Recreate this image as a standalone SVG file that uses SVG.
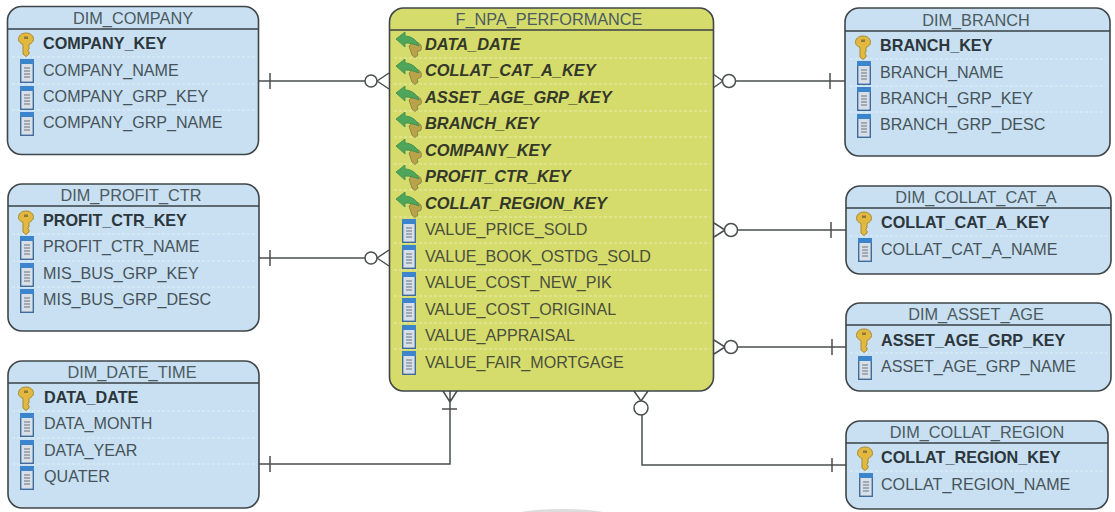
<svg xmlns="http://www.w3.org/2000/svg" width="1115" height="512" viewBox="0 0 1115 512">
<style>
text{font-family:"Liberation Sans",Arial,sans-serif;font-size:16.1px;fill:#47535a}
.title{text-anchor:middle;fill:#4c5a62;font-size:16.3px}
.k{font-weight:bold;fill:#2c363c;font-size:16.2px}
.f{font-weight:bold;font-style:italic;fill:#33382a;font-size:16.4px}
.v{fill:#4a4f3e}
.box{stroke:#3f4548;stroke-width:1.6}
.dim{fill:#c8e0f1}
.fact{fill:#d5dc6b}
.hd{stroke:#3a4246;stroke-width:1.4;fill:none}
.sep{stroke:#fff;stroke-opacity:.45;stroke-width:1;stroke-dasharray:3 2;fill:none}
.c{fill:none;stroke:#4b4f50;stroke-width:1.5}
.o{fill:#fff;stroke:#4b4f50;stroke-width:1.5}
</style>
<defs>
<symbol id="key" width="16" height="24" viewBox="0 0 16 24" overflow="visible">
<path d="M8 0C3 0 .5 3 .5 6.500C.5 9 3 10.500 5 11.500L5 21L8 23.500L11 21L11 18.500L9.500 17.500L11 16L11 11.500C13 10.500 15.500 9 15.500 6.500C15.500 3 13 0 8 0Z" fill="#e2b83f" stroke="#a58a35" stroke-width="1"/>
<rect x="6" y="3.500" width="4" height="2.500" fill="#8d7a3a"/>
</symbol>
<symbol id="col" width="14" height="24" viewBox="0 0 14 24">
<rect x=".7" y=".7" width="12.600" height="22.600" fill="#d8dfe6" stroke="#3f6c9c" stroke-width="1.400"/>
<rect x="0" y="0" width="14" height="5" fill="#3c85cc"/>
<path d="M4 9H10M4 12H10M4 15H10M4 18H10" stroke="#8c99a5" stroke-width="1.300"/>
</symbol>
<symbol id="fk" width="28" height="26" viewBox="0 0 28 26">
<path d="M14 14L17 23L20 25.500L23 23L22 20L26 18C28 13 23 9 18 10Z" fill="#b9a24a" stroke="#8f8a45"/>
<path d="M1 7L10 0L10 4C16 4 22 8 24 14C19 12 15 11 10 11L10 15Z" fill="#4fa65a" stroke="#3c8a4a" stroke-width=".8"/>
</symbol>
</defs>
<rect width="1115" height="512" fill="#fff"/>
<ellipse cx="562" cy="520" rx="60" ry="11" fill="#dcdcdc"/>

<g id="connectors">
<path class="c" d="M258 81H365M270 73V89M377 81L389 73M377 81L389 89"/>
<circle class="o" cx="371" cy="81" r="6"/>
<path class="c" d="M259 258H365M270 250V266M377 258L389 250M377 258L389 266"/>
<circle class="o" cx="371" cy="258" r="6"/>
<path class="c" d="M259 464H450V391M270 456V472M442 409H457M450 402L443 391M450 402L457 391"/>
<path class="c" d="M846 465H642V415M832 458V472M641 401L634 391M641 401L648 391"/>
<circle class="o" cx="641" cy="408" r="7"/>
<path class="c" d="M735 81H845M830 73V89M723 81L713 74M723 81L713 88"/>
<circle class="o" cx="729" cy="81" r="6.500"/>
<path class="c" d="M737 230H846M831 222V238M725 230L714 223M725 230L714 237"/>
<circle class="o" cx="731" cy="230" r="6.500"/>
<path class="c" d="M737 347H846M832 339V355M725 347L714 340M725 347L714 354"/>
<circle class="o" cx="731" cy="347" r="6.500"/>
</g>

<g id="dim_company">
<rect class="box dim" x="7.500" y="6.500" width="251" height="148" rx="14"/>
<path class="hd" d="M8 29H258"/>
<path class="sep" d="M12 57H256M12 84H256M12 110H256"/>
<text class="title" x="133" y="24">DIM_COMPANY</text>
<use href="#key" x="18" y="33"/><text class="k" x="43" y="49">COMPANY_KEY</text>
<use href="#col" x="20" y="59"/><text x="43" y="75.500">COMPANY_NAME</text>
<use href="#col" x="20" y="86"/><text x="43" y="102">COMPANY_GRP_KEY</text>
<use href="#col" x="20" y="112"/><text x="43" y="128">COMPANY_GRP_NAME</text>
</g>

<g id="dim_profit_ctr">
<rect class="box dim" x="8" y="184" width="251" height="147" rx="14"/>
<path class="hd" d="M8 206H259"/>
<path class="sep" d="M12 234H256M12 261H256M12 287H256"/>
<text class="title" x="131" y="201">DIM_PROFIT_CTR</text>
<use href="#key" x="18" y="211"/><text class="k" x="43" y="226">PROFIT_CTR_KEY</text>
<use href="#col" x="20" y="236"/><text x="43" y="252">PROFIT_CTR_NAME</text>
<use href="#col" x="20" y="263"/><text x="43" y="278.500">MIS_BUS_GRP_KEY</text>
<use href="#col" x="20" y="289"/><text x="43" y="305">MIS_BUS_GRP_DESC</text>
</g>

<g id="dim_date_time">
<rect class="box dim" x="8" y="361" width="251" height="147" rx="14"/>
<path class="hd" d="M8 383H259"/>
<path class="sep" d="M12 411H256M12 438H256M12 464H256"/>
<text class="title" x="132" y="378">DIM_DATE_TIME</text>
<use href="#key" x="18" y="387"/><text class="k" x="44" y="402.500">DATA_DATE</text>
<use href="#col" x="20" y="413"/><text x="44" y="429">DATA_MONTH</text>
<use href="#col" x="20" y="440"/><text x="44" y="456">DATA_YEAR</text>
<use href="#col" x="20" y="466"/><text x="44" y="482">QUATER</text>
</g>

<g id="f_npa_performance">
<rect class="box fact" x="389.500" y="8" width="324" height="383" rx="14"/>
<path class="hd" d="M390 30H713"/>
<path class="sep" d="M394 58H710M394 84H710M394 111H710M394 137H710M394 164H710M394 190H710M394 217H710M394 243H710M394 270H710M394 296H710M394 323H710M394 349H710"/>
<text class="title" x="549" y="25">F_NPA_PERFORMANCE</text>
<use href="#fk" x="395" y="32"/><text class="f" x="425" y="49.500">DATA_DATE</text>
<use href="#fk" x="395" y="59"/><text class="f" x="425" y="76">COLLAT_CAT_A_KEY</text>
<use href="#fk" x="395" y="86"/><text class="f" x="425" y="102.500">ASSET_AGE_GRP_KEY</text>
<use href="#fk" x="395" y="112"/><text class="f" x="425" y="129">BRANCH_KEY</text>
<use href="#fk" x="395" y="139"/><text class="f" x="425" y="155.500">COMPANY_KEY</text>
<use href="#fk" x="395" y="165"/><text class="f" x="425" y="182">PROFIT_CTR_KEY</text>
<use href="#fk" x="395" y="192"/><text class="f" x="425" y="208.500">COLLAT_REGION_KEY</text>
<use href="#col" x="402" y="219"/><text class="v" x="425" y="235">VALUE_PRICE_SOLD</text>
<use href="#col" x="402" y="245"/><text class="v" x="425" y="261.500">VALUE_BOOK_OSTDG_SOLD</text>
<use href="#col" x="402" y="272"/><text class="v" x="425" y="288">VALUE_COST_NEW_PIK</text>
<use href="#col" x="402" y="298"/><text class="v" x="425" y="314.500">VALUE_COST_ORIGINAL</text>
<use href="#col" x="402" y="325"/><text class="v" x="425" y="341">VALUE_APPRAISAL</text>
<use href="#col" x="402" y="351"/><text class="v" x="425" y="367.500">VALUE_FAIR_MORTGAGE</text>
</g>

<g id="dim_branch">
<rect class="box dim" x="845" y="8" width="265" height="148" rx="14"/>
<path class="hd" d="M845 31H1110"/>
<path class="sep" d="M850 59H1106M850 86H1106M850 112H1106"/>
<text class="title" x="976" y="26">DIM_BRANCH</text>
<use href="#key" x="855" y="36"/><text class="k" x="880" y="51">BRANCH_KEY</text>
<use href="#col" x="857" y="61"/><text x="880" y="77.500">BRANCH_NAME</text>
<use href="#col" x="857" y="87"/><text x="880" y="104">BRANCH_GRP_KEY</text>
<use href="#col" x="857" y="114"/><text x="880" y="130">BRANCH_GRP_DESC</text>
</g>

<g id="dim_collat_cat_a">
<rect class="box dim" x="846" y="186" width="265" height="88" rx="14"/>
<path class="hd" d="M846 208H1111"/>
<path class="sep" d="M850 236H1107"/>
<text class="title" x="976" y="203">DIM_COLLAT_CAT_A</text>
<use href="#key" x="856" y="212"/><text class="k" x="881" y="228">COLLAT_CAT_A_KEY</text>
<use href="#col" x="858" y="238"/><text x="881" y="254.500">COLLAT_CAT_A_NAME</text>
</g>

<g id="dim_asset_age">
<rect class="box dim" x="846" y="303" width="265" height="88" rx="14"/>
<path class="hd" d="M846 325H1111"/>
<path class="sep" d="M850 353H1107"/>
<text class="title" x="976" y="320">DIM_ASSET_AGE</text>
<use href="#key" x="856" y="329"/><text class="k" x="881" y="345.500">ASSET_AGE_GRP_KEY</text>
<use href="#col" x="858" y="356"/><text x="881" y="372">ASSET_AGE_GRP_NAME</text>
</g>

<g id="dim_collat_region">
<rect class="box dim" x="846" y="421" width="262" height="88" rx="14"/>
<path class="hd" d="M846 443H1108"/>
<path class="sep" d="M850 471H1104"/>
<text class="title" x="977" y="438">DIM_COLLAT_REGION</text>
<use href="#key" x="857" y="447"/><text class="k" x="881" y="463">COLLAT_REGION_KEY</text>
<use href="#col" x="859" y="473"/><text x="881" y="490">COLLAT_REGION_NAME</text>
</g>
</svg>
